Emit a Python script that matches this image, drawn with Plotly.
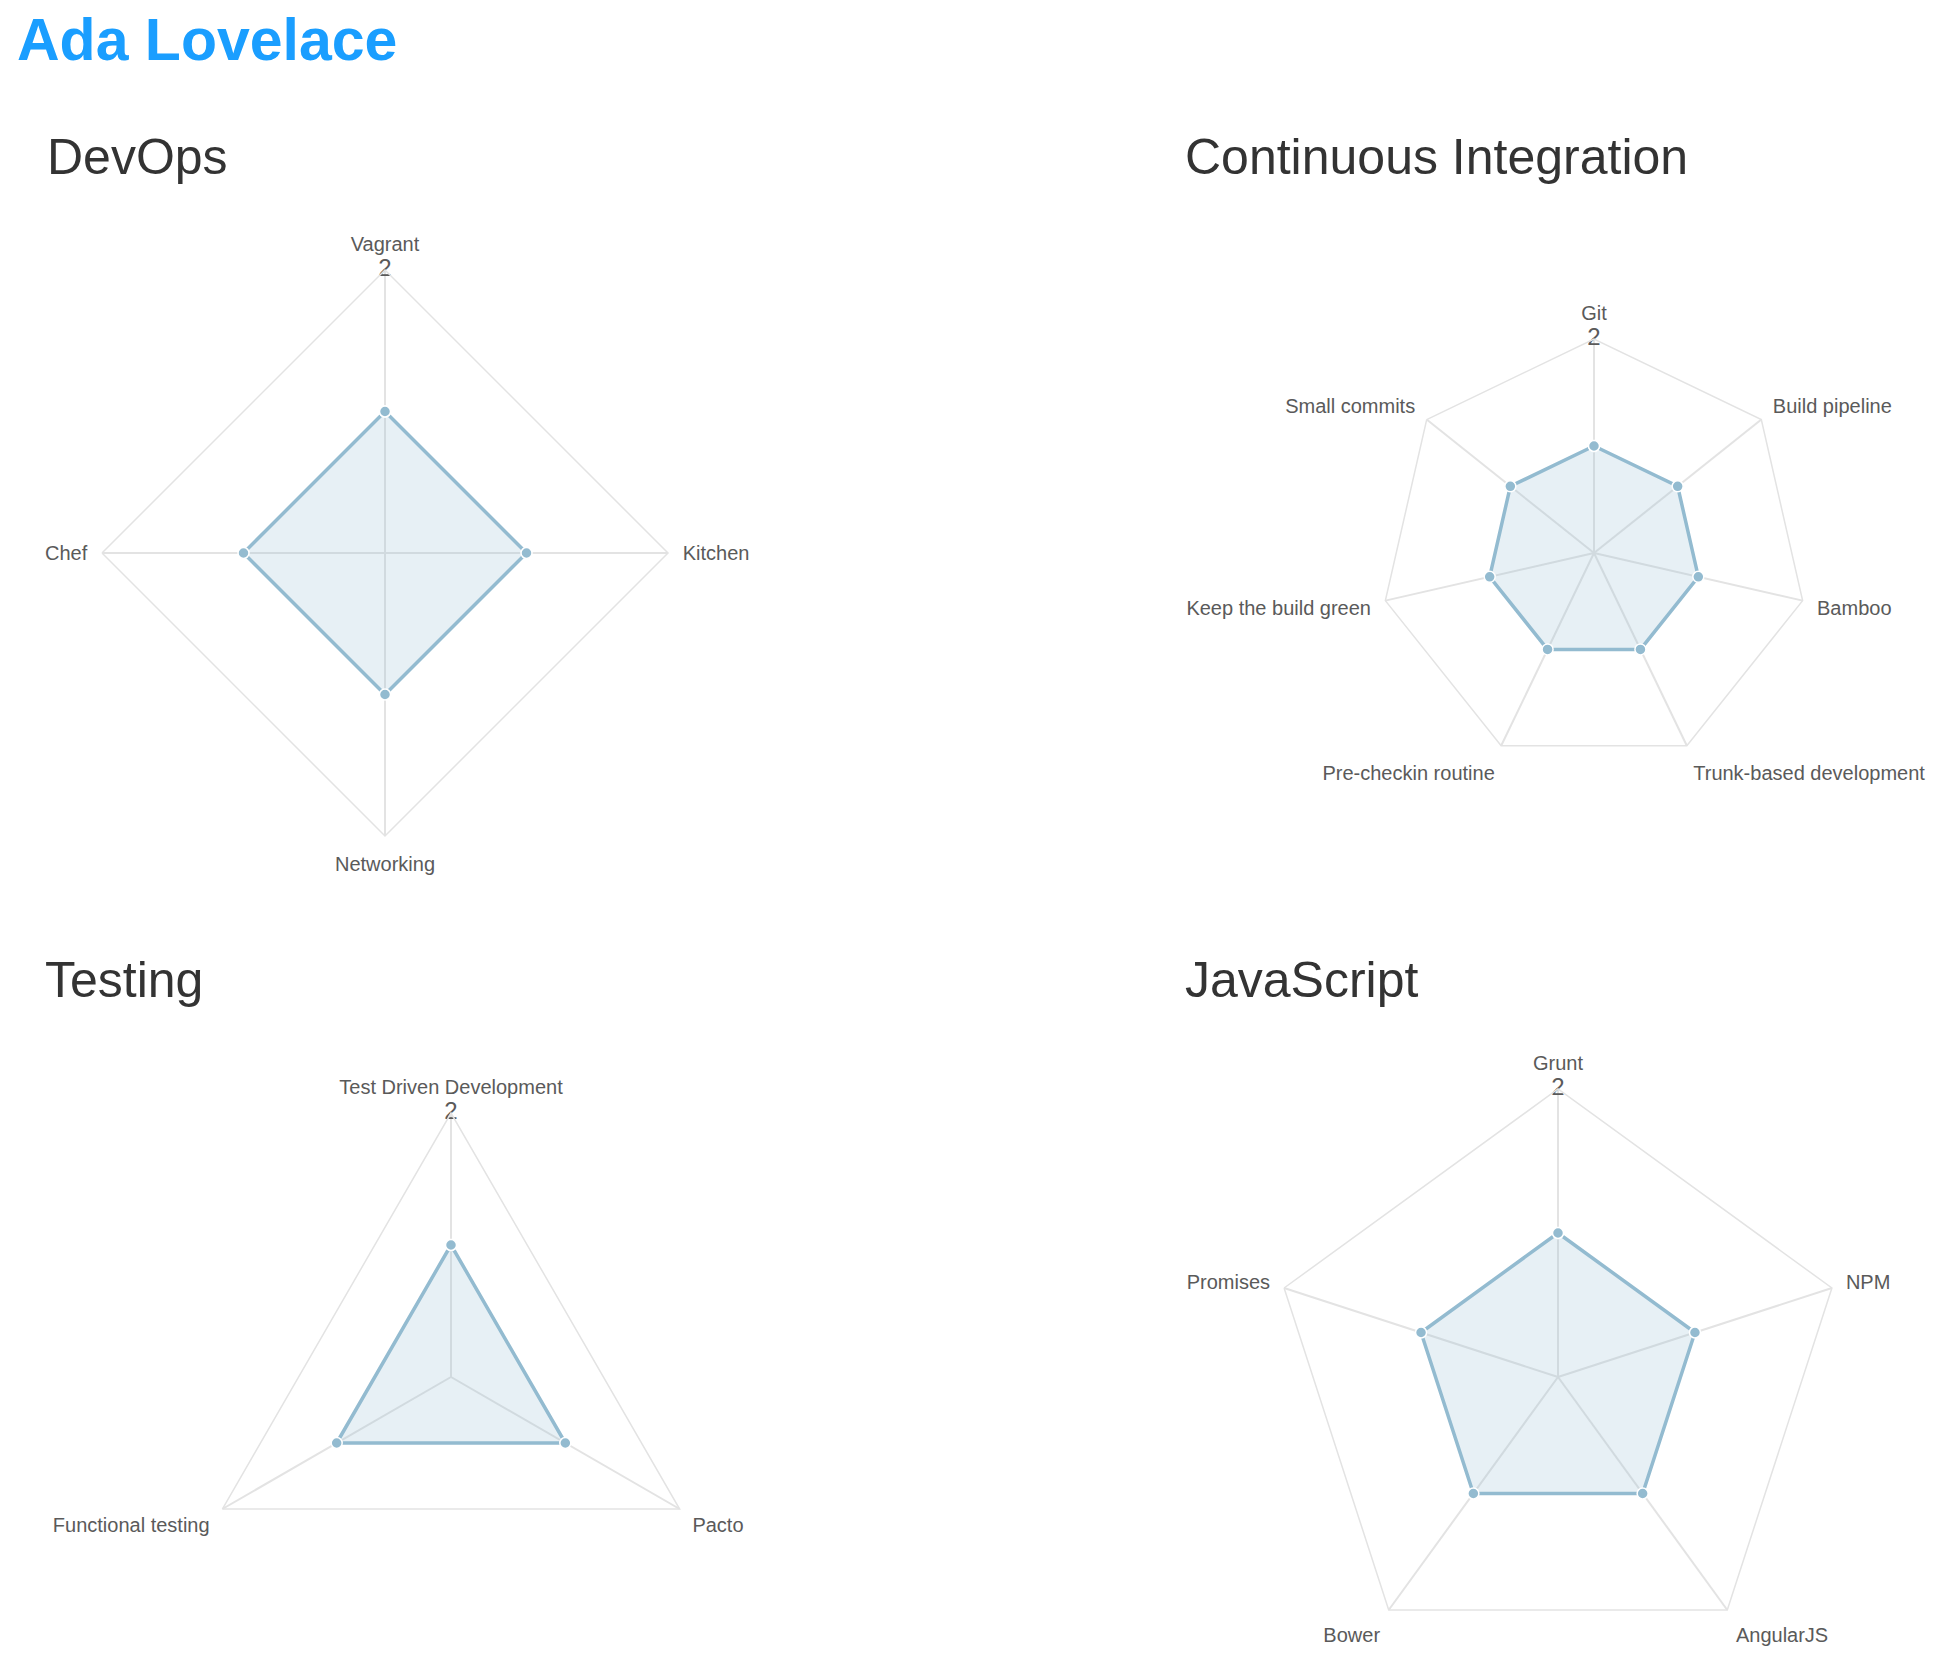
import plotly.graph_objects as go

W, H = 1960, 1672

page_title = "Ada Lovelace"

devops_skills = ["Vagrant", "Kitchen", "Networking", "Chef"]
devops_levels = [1, 1, 1, 1]

ci_skills = ["Git", "Build pipeline", "Bamboo", "Trunk-based development",
             "Pre-checkin routine", "Keep the build green", "Small commits"]
ci_levels = [1, 1, 1, 1, 1, 1, 1]

testing_skills = ["Test Driven Development", "Pacto", "Functional testing"]
testing_levels = [1, 1, 1]

js_skills = ["Grunt", "NPM", "AngularJS", "Bower", "Promises"]
js_levels = [1, 1, 1, 1, 1]

max_level = 2
max_tick_text = "2"

# layout: (title, skills, levels, center x px, center y px, radius px, title x px, title baseline px)
panels = [
    ("DevOps", devops_skills, devops_levels, 385, 553, 283, 45, 176),
    ("Continuous Integration", ci_skills, ci_levels, 1594, 553, 214, 1183, 176),
    ("Testing", testing_skills, testing_levels, 451, 1377, 264, 43, 999),
    ("JavaScript", js_skills, js_levels, 1558, 1377, 288, 1183, 999),
]

LINE = "#93bbd0"
FILL = "rgba(147,187,208,0.22)"
GRID = "#e3e3e3"
LABEL = "#5a5a5a"
FONT = "Liberation Sans, Arial, Helvetica, sans-serif"

fig = go.Figure()
annotations = []
layout_polars = {}

for i, (title, skills, levels, cx, cy, r, tx, tb) in enumerate(panels):
    pid = "polar" if i == 0 else f"polar{i+1}"
    sub = "polar" if i == 0 else f"polar{i+1}"
    theta = list(skills) + [skills[0]]
    rr = list(levels) + [levels[0]]
    fig.add_trace(go.Scatterpolar(
        r=rr, theta=theta, subplot=sub, mode="lines+markers",
        fill="toself", fillcolor=FILL,
        line=dict(color=LINE, width=3.5),
        marker=dict(size=11, color=LINE, line=dict(color="white", width=1.5)),
        showlegend=False, hoverinfo="skip", cliponaxis=False,
    ))
    fig.add_trace(go.Scatterpolar(
        r=[max_level], theta=[skills[0]], subplot=sub, mode="text",
        text=[max_tick_text], textposition="middle center",
        textfont=dict(size=24, color=LABEL, family=FONT),
        showlegend=False, hoverinfo="skip", cliponaxis=False,
    ))
    layout_polars[pid] = dict(
        domain=dict(x=[(cx - r) / W, (cx + r) / W],
                    y=[1 - (cy + r) / H, 1 - (cy - r) / H]),
        gridshape="linear",
        bgcolor="white",
        radialaxis=dict(range=[0, max_level], tickvals=[max_level], showticklabels=False,
                        showline=False, ticks="", showgrid=True, gridcolor=GRID, gridwidth=1.5),
        angularaxis=dict(type="category", categoryarray=skills, direction="clockwise",
                         rotation=90, showline=True, linecolor=GRID, linewidth=1.5,
                         showgrid=True, gridcolor=GRID, gridwidth=1.5,
                         ticks="outside", ticklen=10, tickcolor="rgba(0,0,0,0)",
                         tickfont=dict(size=20, color=LABEL, family=FONT)),
    )
    annotations.append(dict(
        text=title, xref="paper", yref="paper", x=tx / W, y=1 - (tb + 11) / H,
        xanchor="left", yanchor="bottom", showarrow=False,
        font=dict(size=50, color="#333333", family=FONT),
    ))

annotations.append(dict(
    text=f"<b>{page_title}</b>", xref="paper", yref="paper", x=15 / W, y=1 - 75 / H,
    xanchor="left", yanchor="bottom", showarrow=False,
    font=dict(size=59, color="#1a9eff", family=FONT),
))

fig.update_layout(
    width=W, height=H, autosize=False,
    margin=dict(l=0, r=0, t=0, b=0),
    paper_bgcolor="white", plot_bgcolor="white",
    annotations=annotations,
    **layout_polars,
)

fig.write_html("out.html")
